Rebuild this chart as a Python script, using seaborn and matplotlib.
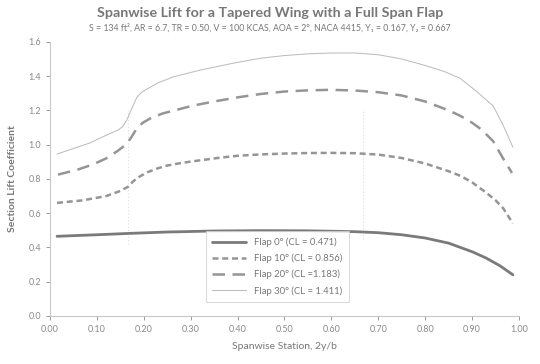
import numpy as np
import pandas as pd
import matplotlib
matplotlib.use("Agg")
import matplotlib.pyplot as plt
import seaborn as sns

# data
flap0_x = [0.015, 0.10, 0.17, 0.25, 0.35, 0.45, 0.55, 0.65, 0.70, 0.75, 0.80, 0.85, 0.90, 0.93, 0.96, 0.987]
flap0_cl = [0.465, 0.474, 0.482, 0.490, 0.496, 0.498, 0.497, 0.492, 0.486, 0.474, 0.455, 0.425, 0.375, 0.338, 0.292, 0.240]

flap10_x = [0.015, 0.07, 0.12, 0.15, 0.167, 0.177, 0.19, 0.207, 0.23, 0.25, 0.28, 0.305, 0.36, 0.40,
            0.45, 0.50, 0.55, 0.60, 0.65, 0.70, 0.75, 0.80, 0.85, 0.875, 0.90, 0.93, 0.95, 0.966, 0.987]
flap10_cl = [0.660, 0.675, 0.700, 0.730, 0.755, 0.785, 0.812, 0.838, 0.862, 0.878, 0.893, 0.903, 0.923, 0.935,
             0.943, 0.948, 0.951, 0.952, 0.950, 0.942, 0.922, 0.890, 0.845, 0.818, 0.780, 0.720, 0.675, 0.630, 0.540]

flap20_x = [0.017, 0.06, 0.092, 0.12, 0.145, 0.164, 0.175, 0.185, 0.198, 0.213, 0.24, 0.263, 0.305, 0.35,
            0.40, 0.45, 0.50, 0.55, 0.60, 0.65, 0.70, 0.75, 0.80, 0.85, 0.875, 0.90, 0.92, 0.945, 0.966, 0.985]
flap20_cl = [0.825, 0.855, 0.885, 0.920, 0.965, 1.005, 1.050, 1.095, 1.128, 1.152, 1.182, 1.198, 1.228, 1.252,
             1.276, 1.296, 1.310, 1.317, 1.320, 1.316, 1.306, 1.287, 1.252, 1.200, 1.168, 1.128, 1.088, 1.020, 0.920, 0.835]

flap30_x = [0.015, 0.085, 0.12, 0.145, 0.155, 0.164, 0.175, 0.185, 0.195, 0.207, 0.23, 0.262, 0.32, 0.39,
            0.45, 0.50, 0.55, 0.60, 0.65, 0.70, 0.75, 0.80, 0.84, 0.874, 0.91, 0.945, 0.966, 0.987]
flap30_cl = [0.945, 1.010, 1.055, 1.085, 1.105, 1.145, 1.215, 1.275, 1.305, 1.325, 1.360, 1.395, 1.435, 1.475,
             1.505, 1.520, 1.530, 1.535, 1.535, 1.525, 1.500, 1.462, 1.428, 1.388, 1.310, 1.225, 1.115, 0.985]

labels = ["Flap 0° (CL = 0.471)", "Flap 10° (CL = 0.856)", "Flap 20° (CL =1.183)", "Flap 30° (CL = 1.411)"]
flap_edges = [0.167, 0.667]
edge_lo = [0.42, 0.45]
edge_hi = [1.20, 1.20]

x_ticks = [0.0, 0.1, 0.2, 0.3, 0.4, 0.5, 0.6, 0.7, 0.8, 0.9, 1.0]
y_ticks = [0.0, 0.2, 0.4, 0.6, 0.8, 1.0, 1.2, 1.4, 1.6]

frames = []
for lab, xs, ys in zip(labels, [flap0_x, flap10_x, flap20_x, flap30_x], [flap0_cl, flap10_cl, flap20_cl, flap30_cl]):
    frames.append(pd.DataFrame({"station": xs, "cl": ys, "flap": lab}))
df = pd.concat(frames, ignore_index=True)

sns.set_style("white")
plt.rcParams["font.family"] = ["Lato", "DejaVu Sans"]

fig = plt.figure(figsize=(5.4, 3.64), dpi=100)
ax = fig.add_axes([0.0926, 0.132, 0.8685, 0.753])

palette = dict(zip(labels, ["#7a7a7a", "#959595", "#959595", "#bdbdbd"]))
dashes = dict(zip(labels, ["", (2.4, 1.5), (5.0, 3.0), ""]))
sizes = dict(zip(labels, [2.0, 1.8, 1.8, 0.75]))

sns.lineplot(data=df, x="station", y="cl", hue="flap", style="flap", size="flap",
             palette=palette, dashes=dashes, sizes=sizes, sort=False, estimator=None, ax=ax)

ax.vlines(flap_edges, edge_lo, edge_hi, colors="#dedede", linestyles=(0, (1, 2)), linewidth=0.8, zorder=0)

ax.set_xlim(0, 1.0)
ax.set_ylim(0, 1.6)
ax.set_xticks(x_ticks)
ax.set_yticks(y_ticks)
ax.set_xticklabels([f"{v:.2f}" for v in x_ticks])
ax.set_yticklabels([f"{v:.1f}" for v in y_ticks])
ax.tick_params(labelsize=6.5, colors="#8a8a8a", length=3, width=0.6, direction="out")
ax.tick_params(axis="both", which="both", left=True, bottom=True)
for s in ["top", "right"]:
    ax.spines[s].set_visible(False)
for s in ["left", "bottom"]:
    ax.spines[s].set_color("#c8c8c8")
    ax.spines[s].set_linewidth(0.8)

ax.set_xlabel("Spanwise Station, 2y/b", fontsize=7.5, color="#777777", labelpad=6)
ax.set_ylabel("Section Lift Coefficient", fontsize=7.5, color="#777777", fontweight="bold", labelpad=8)

fig.text(0.5, 0.965, "Spanwise Lift for a Tapered Wing with a Full Span Flap", ha="center", va="center",
         fontsize=10.3, color="#777777", fontweight="bold")
fig.text(0.5, 0.922, "S = 134 ft², AR = 6.7, TR = 0.50, V = 100 KCAS, AOA = 2°, NACA 4415, Y₁ = 0.167, Y₂ = 0.667",
         ha="center", va="center", fontsize=6.3, color="#777777", family=["Lato", "DejaVu Sans"])

handles, _ = ax.get_legend_handles_labels()
handles = [h for h in handles if h.get_label() in labels]
leg = ax.legend(handles=handles, labels=labels, loc="lower left", bbox_to_anchor=(0.322, 0.033),
                fontsize=6.8, frameon=True, fancybox=False, edgecolor="#cfcfcf", handlelength=3.6,
                borderpad=0.7, labelspacing=0.7)
for t in leg.get_texts():
    t.set_color("#777777")
leg.get_frame().set_linewidth(0.7)

fig.savefig("out.png", dpi=100, facecolor="white")
